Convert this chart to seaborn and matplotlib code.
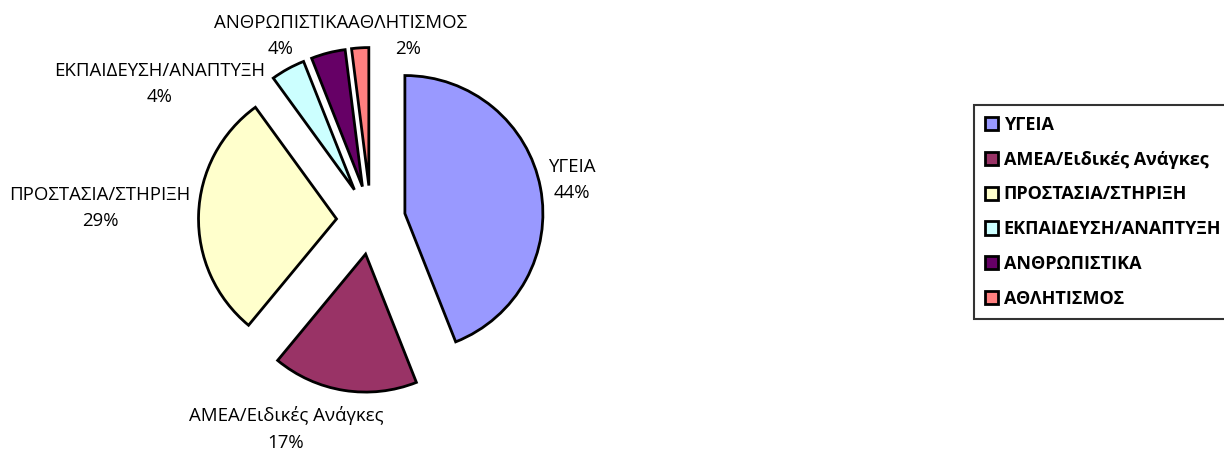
import matplotlib
matplotlib.use("Agg")
import matplotlib.pyplot as plt
import seaborn as sns

# =========================
#  Data
# =========================
categories = [
    "ΥΓΕΙΑ",
    "ΑΜΕΑ/Ειδικές Ανάγκες",
    "ΠΡΟΣΤΑΣΙΑ/ΣΤΗΡΙΞΗ",
    "ΕΚΠΑΙΔΕΥΣΗ/ΑΝΑΠΤΥΞΗ",
    "ΑΝΘΡΩΠΙΣΤΙΚΑ",
    "ΑΘΛΗΤΙΣΜΟΣ",
]
shares = [44, 17, 29, 4, 4, 2]
colors = ["#9999FF", "#993366", "#FFFFCC", "#CCFFFF", "#660066", "#FF8080"]

# label anchor points, in units of pie radius (x right, y up)
label_pos = [
    (1.457, 0.29),
    (-0.616, -1.514),
    (-1.964, 0.087),
    (-1.529, 0.986),
    (-0.652, 1.333),
    (0.268, 1.333),
]

sns.set_theme(style="white")
plt.rcParams["font.family"] = ["Open Sans", "DejaVu Sans"]
plt.rcParams["text.color"] = "black"

W, H = 1224, 450
fig = plt.figure(figsize=(W / 100, H / 100), dpi=100)

# pie centre at (371, 220) px from top-left, radius 138 px
cx, cy, r = 371, 220, 138
ax = fig.add_axes([0, (H - cy - 220) / H, 2 * cx / W, 440 / H])

wedges, _ = ax.pie(
    shares,
    colors=sns.color_palette(colors),
    startangle=90,
    counterclock=False,
    explode=[0.25] * len(shares),
    wedgeprops=dict(edgecolor="black", linewidth=2),
)
ax.set_xlim(-cx / r, cx / r)
ax.set_ylim(-220 / r, 220 / r)
ax.set_aspect("auto")
ax.axis("off")

for name, val, (lx, ly) in zip(categories, shares, label_pos):
    ax.text(lx, ly, f"{name}\n{val}%", ha="center", va="center",
            fontsize=13.4, linespacing=1.6, color="black")

leg = fig.legend(
    wedges,
    categories,
    loc="upper left",
    bbox_to_anchor=(974 / W, 1 - 105 / H),
    frameon=True,
    fancybox=False,
    edgecolor="black",
    labelcolor="black",
    prop=dict(weight="bold", size=13),
    handlelength=0.75,
    handleheight=0.75,
    handletextpad=0.3,
    labelspacing=0.93,
    borderpad=0.6,
    borderaxespad=0,
)
leg.get_frame().set_linewidth(1.5)

fig.savefig("out.png", dpi=100)
